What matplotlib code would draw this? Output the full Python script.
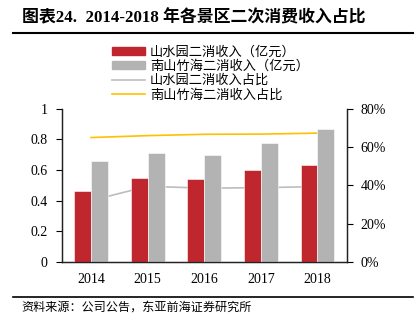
#!/usr/bin/env python3
# scenic_income.py

import numpy as np
import matplotlib.pyplot as plt
from matplotlib.lines import Line2D

years = ["2014", "2015", "2016", "2017", "2018"]
sswy_income = [0.46, 0.55, 0.54, 0.60, 0.63]
nszh_income = [0.66, 0.71, 0.70, 0.78, 0.87]
sswy_share = [0.32, 0.395, 0.385, 0.388, 0.393]
nszh_share = [0.65, 0.66, 0.667, 0.668, 0.673]

left_ticks = [0, 0.2, 0.4, 0.6, 0.8, 1]
left_labels = ["0", "0.2", "0.4", "0.6", "0.8", "1"]
right_ticks = [0, 0.2, 0.4, 0.6, 0.8]
right_labels = ["0%", "20%", "40%", "60%", "80%"]

labels = [
    "山水园二消收入（亿元）",
    "南山竹海二消收入（亿元）",
    "山水园二消收入占比",
    "南山竹海二消收入占比",
]

RED = "#C0262D"
GRAY = "#B3B3B3"
LGRAY = "#BDBDBD"
GOLD = "#FFC000"
SERIF = ["Liberation Serif", "Noto Sans CJK SC"]
CJK = ["Noto Sans CJK SC", "DejaVu Sans"]


def main():
    fig = plt.figure(figsize=(4.19, 3.24), dpi=100)
    ax = fig.add_axes([0.147, 0.192, 0.681, 0.472])
    ax2 = ax.twinx()

    x = np.arange(len(years))
    w = 0.3

    # lines behind the bars
    ax.set_zorder(2)
    ax.patch.set_visible(False)
    ax2.set_zorder(1)
    ax2.plot(x, sswy_share, color=LGRAY, linewidth=1.2)
    ax2.plot(x, nszh_share, color=GOLD, linewidth=1.2, zorder=5)

    ax.bar(x - w / 2, sswy_income, w, color=RED, edgecolor="white", linewidth=0.4)
    ax.bar(x + w / 2, nszh_income, w, color=GRAY, edgecolor="white", linewidth=0.4)

    ax.set_xlim(-0.52, 4.52)
    ax.set_ylim(0, 1)
    ax2.set_ylim(0, 0.8)

    ax.set_xticks(x)
    ax.set_xticklabels(years, family=SERIF, fontsize=10)
    ax.tick_params(axis="x", length=0, pad=8)
    ax.set_yticks(left_ticks)
    ax.set_yticklabels(left_labels, family=SERIF, fontsize=10)
    ax.tick_params(axis="y", direction="out", length=4, width=0.8, pad=6)
    ax2.set_yticks(right_ticks)
    ax2.set_yticklabels(right_labels, family=SERIF, fontsize=10)
    ax2.tick_params(axis="y", direction="out", length=4, width=0.8, pad=6)

    for a in (ax, ax2):
        a.spines["top"].set_visible(False)
        for s in ("left", "right", "bottom"):
            a.spines[s].set_color("#222222")
            a.spines[s].set_linewidth(0.9)

    handles = [
        plt.Rectangle((0, 0), 1, 1, color=RED),
        plt.Rectangle((0, 0), 1, 1, color=GRAY),
        Line2D([], [], color=LGRAY, linewidth=1.2),
        Line2D([], [], color=GOLD, linewidth=1.2),
    ]
    fig.legend(
        handles,
        labels,
        loc="upper left",
        bbox_to_anchor=(0.268, 0.86),
        frameon=False,
        prop={"family": CJK, "size": 9.5},
        handlelength=2.5,
        handleheight=0.6,
        handletextpad=0.35,
        labelspacing=0.1,
        borderpad=0,
        borderaxespad=0,
    )

    fig.text(
        0.052,
        0.944,
        "图表24.  2014-2018 年各景区二次消费收入占比",
        family=SERIF,
        fontsize=12.2,
        fontweight="bold",
        va="center",
    )
    fig.add_artist(
        Line2D([0.03, 0.986], [0.898, 0.898], color="black", linewidth=1.5)
    )
    fig.add_artist(
        Line2D([0.03, 0.986], [0.084, 0.084], color="black", linewidth=1.2)
    )
    fig.text(
        0.052,
        0.052,
        "资料来源：公司公告，东亚前海证券研究所",
        family=CJK,
        fontsize=8.7,
        va="center",
    )

    fig.savefig("out.png", dpi=100)


if __name__ == "__main__":
    main()
